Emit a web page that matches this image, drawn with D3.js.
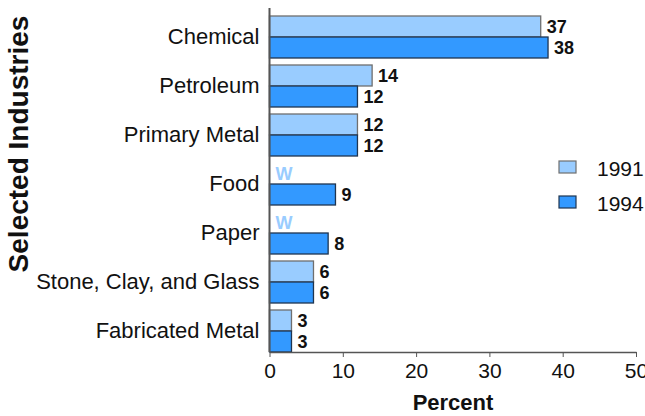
<!DOCTYPE html>
<html><head><meta charset="utf-8">
<script src="https://cdn.jsdelivr.net/npm/d3@7"></script>
<style>
body{margin:0;background:#fff;}
svg{display:block;font-family:"Liberation Sans",Arial,sans-serif;}
</style></head>
<body>
<svg id="chart" width="645" height="416"></svg>
<script>
const categories = ["Chemical","Petroleum","Primary Metal","Food","Paper","Stone, Clay, and Glass","Fabricated Metal"];
const series = ["1991","1994"];
const values1991 = [37,14,12,null,null,6,3];
const values1994 = [38,12,12,9,8,6,3];
const xTicks = [0,10,20,30,40,50];
const colors = {"1991":"#99ccff","1994":"#3399ff"};
const strokes = {"1991":"#6f6f6f","1994":"#1f3550"};

const svg = d3.select("#chart");
const x = d3.scaleLinear().domain([0,50]).range([269.5,636]);
const y = d3.scaleBand().domain(categories).range([16,352]).paddingInner(7/49).paddingOuter(0);
const ySub = d3.scaleBand().domain(series).range([0,y.bandwidth()]);

const data = categories.map((c,i)=>({cat:c, vals:[{s:"1991",v:values1991[i]},{s:"1994",v:values1994[i]}]}));

const g = svg.append("g");
const groups = g.selectAll("g.grp").data(data).join("g")
  .attr("transform", d=>`translate(0,${y(d.cat)})`);

groups.selectAll("rect").data(d=>d.vals.filter(e=>e.v!=null)).join("rect")
  .attr("x", x(0))
  .attr("y", d=>ySub(d.s))
  .attr("width", d=>x(d.v)-x(0))
  .attr("height", ySub.bandwidth())
  .attr("fill", d=>colors[d.s])
  .attr("stroke", d=>strokes[d.s])
  .attr("stroke-width",1.3);

groups.selectAll("text.val").data(d=>d.vals).join("text")
  .attr("class","val")
  .attr("x", d=> d.v==null ? x(0)+6 : x(d.v)+6)
  .attr("y", d=>ySub(d.s)+ySub.bandwidth()/2)
  .attr("dy","0.36em")
  .attr("font-size", 18)
  .attr("font-weight","bold")
  .attr("fill", d=> d.v==null ? "#99ccff" : "#111")
  .text(d=> d.v==null ? "W" : d.v);

// y axis
const yAxis = d3.axisLeft(y).tickSize(0).tickPadding(10);
const ya = svg.append("g").attr("transform",`translate(${x(0)},0)`).call(yAxis);
ya.select(".domain").attr("d",`M0,8V352`).attr("stroke","#555").attr("stroke-width",2);
ya.selectAll("text").attr("font-size",22).attr("fill","#111").attr("font-family","'Liberation Sans',Arial,sans-serif");

// x axis
const xAxis = d3.axisBottom(x).tickValues(xTicks).tickSize(5).tickPadding(6).tickSizeOuter(0);
const xa = svg.append("g").attr("transform","translate(0,352)").call(xAxis);
xa.select(".domain").attr("stroke","#555").attr("stroke-width",1.5);
xa.selectAll(".tick line").attr("stroke","#555");
xa.selectAll("text").attr("font-size",21).attr("fill","#111").attr("font-family","'Liberation Sans',Arial,sans-serif");

// axis titles
svg.append("text").attr("x",453).attr("y",410).attr("text-anchor","middle")
  .attr("font-size",22).attr("font-weight","bold").attr("fill","#111").text("Percent");
svg.append("text").attr("transform","translate(28,144) rotate(-90)").attr("text-anchor","middle")
  .attr("font-size",28).attr("font-weight","bold").attr("fill","#111").text("Selected Industries");

// legend
const leg = svg.append("g");
series.forEach((s,i)=>{
  const ly = 161 + i*35;
  leg.append("rect").attr("x",559).attr("y",ly).attr("width",17).attr("height",12)
    .attr("fill",colors[s]).attr("stroke",strokes[s]).attr("stroke-width",1.2);
  leg.append("text").attr("x",597).attr("y",ly+15).attr("font-size",21).attr("fill","#111").text(s);
});
</script>
</body></html>
